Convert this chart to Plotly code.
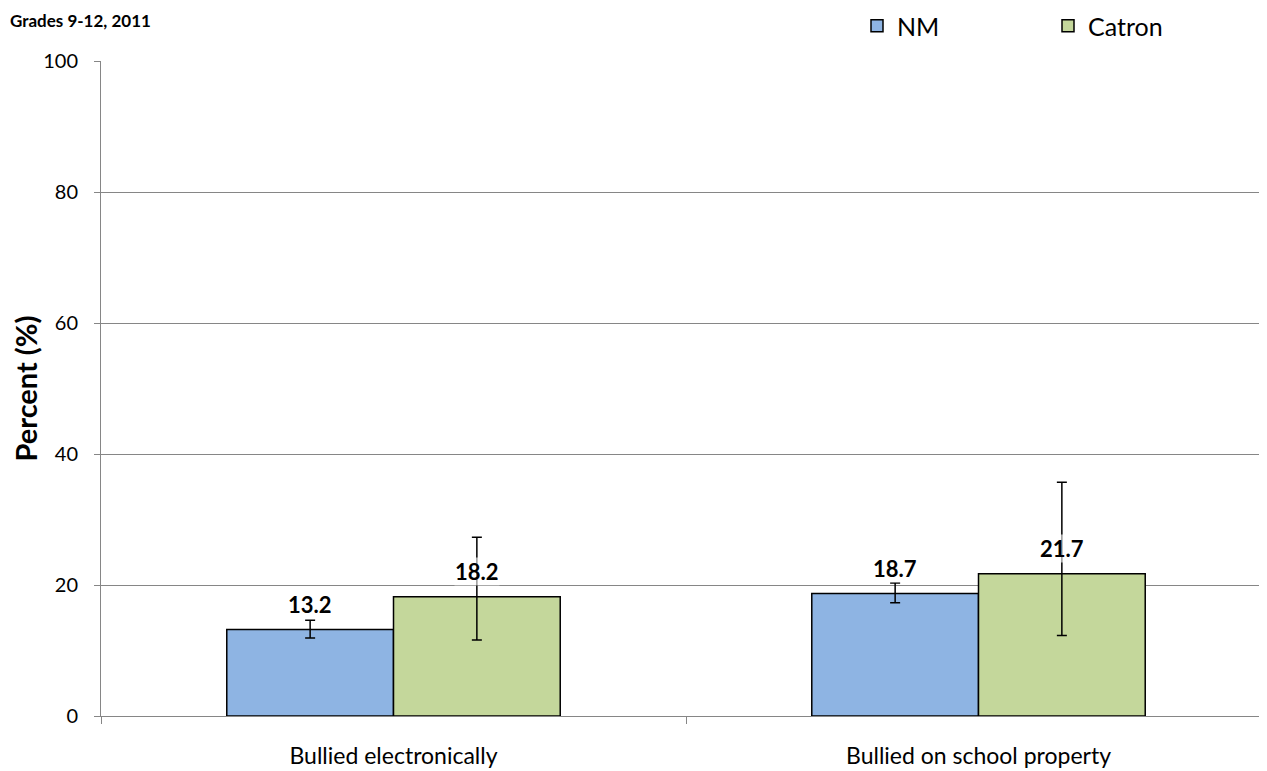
import plotly.graph_objects as go

categories = ["Bullied electronically", "Bullied on school property"]
series_names = ["NM", "Catron"]
nm_values = [13.2, 18.7]
nm_upper = [14.6, 20.3]
nm_lower = [11.9, 17.3]
catron_values = [18.2, 21.7]
catron_upper = [27.3, 35.7]
catron_lower = [11.6, 12.3]
y_ticks = [0, 20, 40, 60, 80, 100]
title_text = "Grades 9-12, 2011"
y_title = "Percent (%)"

FONT = "Lato, 'Liberation Sans', sans-serif"
colors = ["#8EB4E3", "#C4D79B"]

W, H = 1259, 763
ML, MT, MB = 93, 53, 55

fig = go.Figure()
series = [
    (series_names[0], nm_values, nm_upper, nm_lower, colors[0]),
    (series_names[1], catron_values, catron_upper, catron_lower, colors[1]),
]
for name, vals, up, lo, col in series:
    fig.add_trace(go.Bar(
        x=categories, y=vals, name=name,
        marker=dict(color=col, line=dict(color="black", width=1.5)),
        error_y=dict(type="data", symmetric=False,
                     array=[u - v for u, v in zip(up, vals)],
                     arrayminus=[v - l for v, l in zip(vals, lo)],
                     color="black", thickness=1.5, width=5),
    ))

bargap = 0.43
bw = (1 - bargap) / 2
annotations = []
for si, (name, vals, up, lo, col) in enumerate(series):
    off = -bw / 2 if si == 0 else bw / 2
    for ci, v in enumerate(vals):
        annotations.append(dict(
            x=ci + off, y=v, xref="x", yref="y", text="<b>%.1f</b>" % v,
            showarrow=False, yshift=25, font=dict(family=FONT, size=22, color="black"),
            bgcolor="rgba(255,255,255,0.6)", borderpad=0,
        ))
annotations.append(dict(
    x=0, y=1, xref="paper", yref="paper", xanchor="left", yanchor="top",
    text="<b>" + title_text + "</b>", showarrow=False, xshift=-ML, yshift=MT,
    font=dict(family=FONT, size=17, color="black"),
))

fig.update_layout(
    width=W, height=H,
    margin=dict(l=ML, r=0, t=MT, b=MB, autoexpand=False),
    paper_bgcolor="white", plot_bgcolor="white",
    barmode="group", bargap=bargap, bargroupgap=0,
    font=dict(family=FONT, color="black"),
    showlegend=True,
    legend=dict(orientation="h", xref="container", yref="container",
                x=849 / W, y=1.0 - 18 / H, xanchor="left", yanchor="middle",
                font=dict(family=FONT, size=25), entrywidth=146, traceorder="normal",
                bgcolor="rgba(0,0,0,0)"),
    annotations=annotations,
    xaxis=dict(range=[-0.5, 1.5 - 4 / 585], tickson="boundaries", ticks="outside", ticklen=7,
               tickcolor="#868686", showline=True, linecolor="#868686", linewidth=1,
               tickfont=dict(family=FONT, size=23), showgrid=False, automargin=False,
               ticklabelstandoff=19),
    yaxis=dict(range=[0, 100], tickvals=y_ticks, ticks="outside", ticklen=6,
               tickcolor="#868686", showline=True, linecolor="#868686", linewidth=1,
               gridcolor="#868686", gridwidth=1, zeroline=False, automargin=False,
               tickfont=dict(family=FONT, size=20), ticklabelstandoff=12,
               title=dict(text="<b>" + y_title + "</b>", font=dict(family=FONT, size=29), standoff=16)),
)

fig.write_html("out.html")
